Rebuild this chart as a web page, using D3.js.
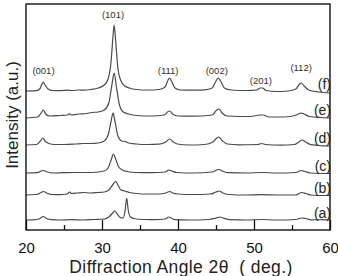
<!DOCTYPE html>
<html>
<head>
<meta charset="utf-8">
<script src="https://cdn.jsdelivr.net/npm/d3@7"></script>
<style>
  html, body { margin: 0; padding: 0; background: #fff; }
  svg { display: block; font-family: "Liberation Sans", Arial, sans-serif; }
</style>
</head>
<body>
<svg id="chart" width="338" height="276"></svg>
<script>
// ── Data (2θ in degrees, intensity in arbitrary units above each trace's offset) ──
const seriesNames = ['(a)', '(b)', '(c)', '(d)', '(e)', '(f)'];
const offsets = [10, 35, 57, 85, 113, 139];

const serA = [[20,0],[21,0.2],[21.7,1],[22.1,3],[22.3,3.5],[22.7,1.5],[23.3,0.3],[24.5,0],[26,0.3],[27.5,0],[29,0.5],[30.3,1],[30.9,3],[31.4,7],[31.7,9],[32.0,6],[32.4,2.5],[32.8,2],[33.05,10],[33.25,22],[33.45,10],[33.7,3.5],[34.2,1.5],[35.5,0.5],[37,0.3],[38.3,1],[38.8,3],[39.1,2],[39.6,0.3],[41.5,0],[44,0.5],[45,2],[45.5,3],[46,1.8],[46.8,0.3],[49,0],[51,0.5],[53,0],[55.5,0.5],[56.3,2],[56.8,1.5],[57.5,0.2],[59,0.3],[60,0]];
const serB = [[20,0],[21.4,0.5],[22.0,2.5],[22.3,3.5],[22.7,2],[23.3,0.5],[24.5,0.3],[25.4,1],[25.75,3],[26.0,1.5],[26.8,2],[27.6,2.5],[28.5,2],[29.5,2.5],[30.3,3],[30.9,5],[31.4,10],[31.8,13.5],[32.1,10],[32.5,5],[33.0,4],[33.6,2.5],[34.5,1.5],[36,1],[37.5,1],[38.4,2],[38.9,3.5],[39.3,2],[40,1],[42,0.5],[44.3,1],[45.0,3],[45.4,4],[45.9,2],[46.6,0.5],[49,0],[51,0.3],[53,0],[55.5,0],[56.3,2.5],[56.8,1.5],[57.5,0],[59,-0.5],[60,-0.5]];
const serC = [[20,0],[21.5,0.3],[22.0,2],[22.3,2.5],[22.8,1],[23.5,0],[25,0.3],[26.5,0.5],[28,0.5],[29.5,1],[30.3,2],[30.8,5],[31.2,13],[31.5,19],[31.8,14],[32.2,6],[32.7,3],[33.3,1.5],[34.5,0.5],[36.5,0.3],[38.3,1],[38.8,3],[39.2,2],[39.8,0.5],[42,0],[44.5,1],[45.1,3],[45.4,3.5],[45.9,1.8],[46.6,0.3],[49,0],[51,0.5],[53,0],[55.5,0.5],[56.2,2.5],[56.7,1.5],[57.5,0],[60,-0.5]];
const serD = [[20,0],[21.4,0.5],[21.9,4],[22.2,7],[22.5,4],[23,1.5],[23.8,0.5],[25,0.5],[26.5,1],[27.5,1.5],[28.5,1.5],[29.5,2],[30.3,4],[30.8,10],[31.2,24],[31.45,32],[31.7,24],[32.1,9],[32.6,4],[33.1,3.5],[33.5,2],[34.5,1],[36,0.5],[37.5,0.8],[38.4,3],[38.9,6],[39.3,3.5],[39.9,1],[41.5,0],[43.5,0.5],[44.6,3],[45.1,7],[45.35,8],[45.8,4.5],[46.5,1],[48,0.2],[50.5,0.5],[51,1.5],[51.5,0.5],[53.5,-0.2],[55.3,0.5],[56.0,3.5],[56.35,5],[56.8,3],[57.5,0.3],[59,-0.8],[60,-1]];
const serE = [[20,-1],[21.5,0],[22.0,4],[22.25,7],[22.6,3],[23.1,1],[24.5,1.5],[25.5,2],[25.7,3.5],[25.9,2],[27,3],[28,3.5],[28.6,4.5],[29.5,5],[30.3,7],[30.9,14],[31.3,32],[31.6,44],[31.9,30],[32.3,12],[32.8,5],[33.5,3],[34.5,1.5],[36.5,1],[38.2,2],[38.7,5.5],[38.9,6],[39.3,3],[40,1],[42,0.8],[44.5,2],[45.1,7],[45.4,8],[45.8,4],[46.5,1],[49.5,0.5],[50.8,2],[51.2,2],[52,0],[54,0],[55.6,2],[56.2,4],[56.6,3],[57.3,0.5],[60,-1]];
const serF = [[20,0],[21.4,0.3],[21.8,2],[22.1,7],[22.25,9],[22.5,6],[22.9,2],[23.5,0.5],[24.5,0.3],[25.5,0.8],[26,0.5],[27,1],[27.5,0.8],[28.5,1.5],[29.5,3],[30.3,6],[30.8,12],[31.2,30],[31.45,55],[31.6,66],[31.8,50],[32.1,22],[32.5,10],[33,5],[33.6,3],[34.5,1.5],[36,1],[37.5,1.5],[38.3,4],[38.7,11],[38.9,13],[39.2,9],[39.6,3],[40.3,1],[42,0.8],[43.5,1.2],[44.5,3],[45,10],[45.3,13],[45.6,10],[46.1,3],[47,1],[49,0.5],[50.4,1],[50.8,3],[51.1,3],[51.6,0.5],[53,-0.5],[54.5,0],[55.5,2],[56,7],[56.2,8],[56.6,5],[57.2,1],[58.5,-1],[60,-2]];
const seriesData = [serA, serB, serC, serD, serE, serF];

// Miller index annotations: [label, 2θ, intensity level]
const peakLabels = [['(001)', 22.3, 159.3], ['(101)', 31.45, 215], ['(111)', 38.7, 159], ['(002)', 45.1, 159.3], ['(201)', 50.9, 149.3], ['(112)', 56.2, 162.7]];

const xTicks = [20, 30, 40, 50, 60];
const xMinorTicks = [25, 35, 45, 55];

// ── Layout ──
const svg = d3.select('#chart');
const L = 26, R = 330, T = 4, B = 230;

const x = d3.scaleLinear().domain([20, 60]).range([L, R]);
const y = d3.scaleLinear().domain([0, 226]).range([B, T]);

// ── Traces ──
const line = d3.line().curve(d3.curveMonotoneX);
seriesData.forEach((s, i) => {
  svg.append('path')
    .attr('d', line(s.map(p => [x(p[0]), y(p[1] + offsets[i])])))
    .attr('fill', 'none').attr('stroke', '#4a4a4a').attr('stroke-width', 1.2)
    .attr('stroke-linejoin', 'round');
});

// ── Trace labels ──
seriesNames.forEach((n, i) => {
  svg.append('text').text(n)
    .attr('x', R + 1).attr('y', y(offsets[i]) - 7).attr('dy', '0.35em')
    .attr('text-anchor', 'end').attr('font-size', '14px').attr('fill', '#222');
});

// ── Peak labels ──
peakLabels.forEach(p => {
  svg.append('text').text(p[0])
    .attr('x', x(p[1])).attr('y', y(p[2])).attr('dy', '0.35em')
    .attr('text-anchor', 'middle').attr('font-size', '9.5px').attr('fill', '#333');
});

// ── Frame + ticks ──
svg.append('rect').attr('x', L).attr('y', T).attr('width', R - L).attr('height', B - T)
  .attr('fill', 'none').attr('stroke', '#111').attr('stroke-width', 1.4);

const xAxis = svg.append('g').attr('transform', `translate(0,${B})`)
  .call(d3.axisBottom(x).tickValues(xTicks).tickSizeInner(-10).tickSizeOuter(0).tickPadding(12).tickFormat(d3.format('d')));
xAxis.select('.domain').remove();
xAxis.selectAll('line').attr('stroke', '#111').attr('stroke-width', 1.3);
xAxis.selectAll('text').attr('font-size', '15px').attr('fill', '#111')
  .attr('font-family', '"Liberation Sans", Arial, sans-serif');

const xMinor = svg.append('g').attr('transform', `translate(0,${B})`)
  .call(d3.axisBottom(x).tickValues(xMinorTicks).tickSize(-5).tickFormat(''));
xMinor.select('.domain').remove();
xMinor.selectAll('line').attr('stroke', '#111').attr('stroke-width', 1.3);

// ── Axis titles ──
svg.append('text').text('Diffraction Angle 2\u03B8  ( deg.)')
  .attr('x', 181).attr('y', 272.5)
  .attr('text-anchor', 'middle').attr('font-size', '17.5px').attr('fill', '#222')
  .attr('letter-spacing', '0.4px')
  .style('white-space', 'pre');

svg.append('text').text('Intensity (a.u.)')
  .attr('transform', 'translate(12,115) rotate(-90)').attr('dy', '0.35em')
  .attr('text-anchor', 'middle').attr('font-size', '17px').attr('fill', '#222');
</script>
</body>
</html>
